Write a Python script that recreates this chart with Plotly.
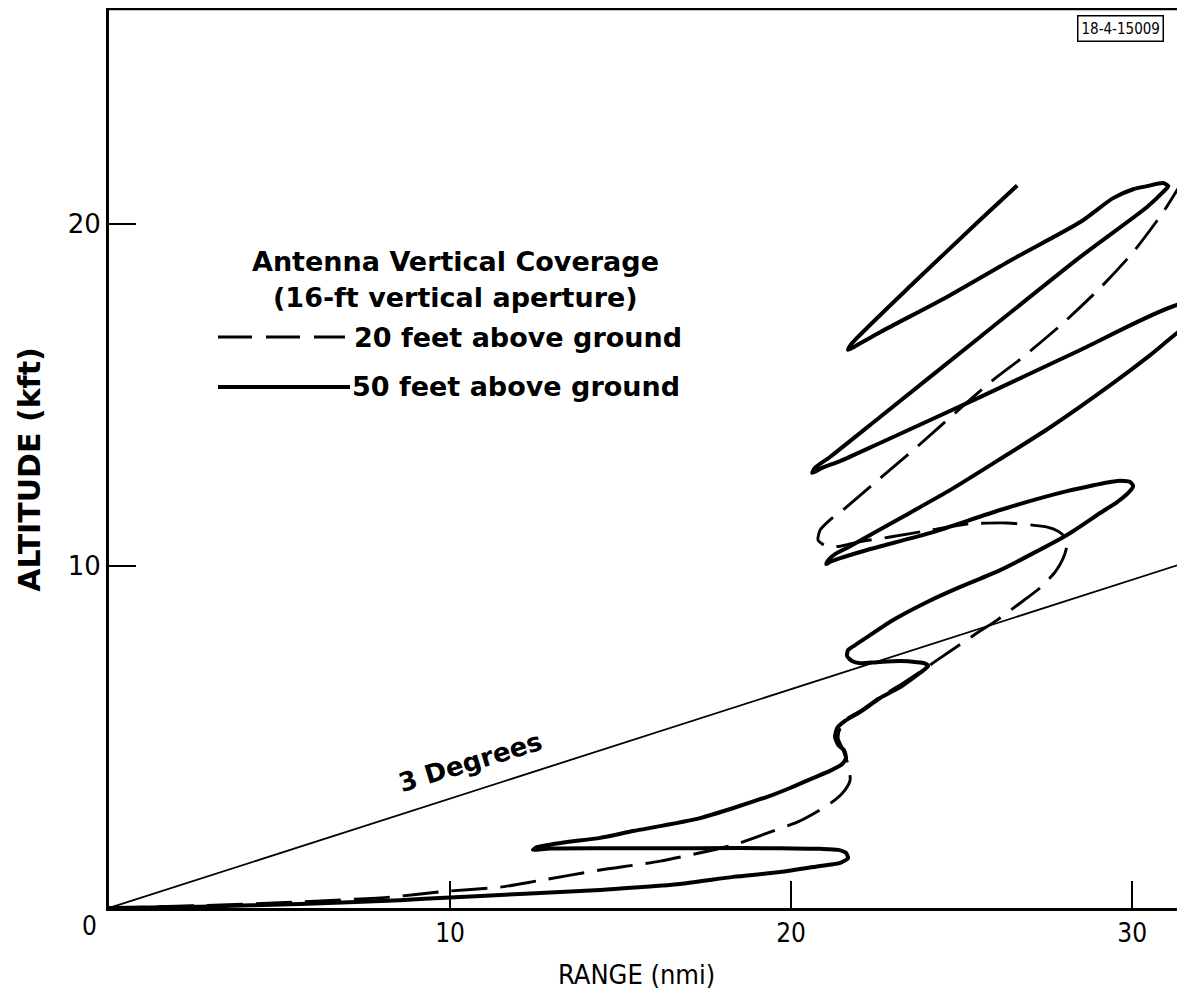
import plotly.graph_objects as go

# ---- data (range in nmi, altitude in kft) ----
SOLID_X = [0.0, 1.20, 2.67, 5.60, 8.53, 10.0, 12.05, 14.40, 16.74, 18.30, 19.68, 20.85, 21.44, 21.67,
           21.61, 21.38, 20.85, 19.68, 17.33, 14.40, 12.93, 12.58, 12.43, 12.55, 12.79, 13.43, 14.40,
           15.37, 17.33, 19.30, 19.97, 20.64, 21.14, 21.50, 21.61, 21.55, 21.38, 21.29, 21.35, 21.58,
           22.02, 22.61, 23.20, 23.69, 23.93, 24.02, 23.90, 23.69, 23.20, 22.52, 22.02, 21.79, 21.64,
           21.67, 21.88, 22.23, 22.99, 23.99, 24.96, 26.13, 28.09, 29.06, 29.56, 29.88, 30.03, 29.94,
           29.56, 28.09, 26.13, 24.16, 22.23, 21.44, 21.14, 21.03, 21.11, 21.29, 21.73, 23.20, 24.66,
           26.13, 27.60, 29.44, 30.53, 31.55, 32.29, 31.55, 28.48, 25.54, 22.61, 21.44, 20.91, 20.62,
           20.70, 21.14, 22.61, 25.54, 28.48, 30.44, 30.91, 31.06, 30.91, 30.44, 30.03, 29.44, 28.48,
           26.51, 24.57, 22.61, 21.88, 21.67, 21.79, 23.58, 25.54, 26.63]
SOLID_Y = [0.0, 0.015, 0.04, 0.12, 0.23, 0.31, 0.41, 0.53, 0.70, 0.91, 1.05, 1.23, 1.32, 1.46,
           1.61, 1.70, 1.73, 1.75, 1.75, 1.75, 1.74, 1.71, 1.70, 1.78, 1.83, 1.93, 2.05,
           2.25, 2.63, 3.25, 3.51, 3.80, 4.01, 4.21, 4.39, 4.62, 4.77, 5.00, 5.26, 5.47,
           5.73, 6.14, 6.46, 6.81, 6.99, 7.08, 7.16, 7.19, 7.22, 7.19, 7.16, 7.22, 7.37,
           7.54, 7.69, 7.92, 8.42, 8.95, 9.39, 9.88, 10.91, 11.55, 11.87, 12.13, 12.34, 12.46,
           12.49, 12.19, 11.64, 10.99, 10.47, 10.23, 10.12, 10.06, 10.20, 10.35, 10.58, 11.40, 12.22,
           13.13, 14.06, 15.35, 16.17, 16.99, 17.34, 17.69, 16.32, 14.94, 13.60, 13.07, 12.87, 12.72,
           12.87, 13.19, 14.36, 16.70, 19.04, 20.50, 20.94, 21.11, 21.20, 21.11, 21.02, 20.76, 20.06,
           18.98, 17.87, 16.84, 16.43, 16.32, 16.52, 18.27, 20.12, 21.13]

DASH_X = [0.0, 2.67, 5.60, 8.24, 9.79, 11.47, 12.55, 14.40, 16.16, 18.30, 19.38, 20.18, 20.85,
          21.29, 21.58, 21.73, 21.70, 21.61, 21.50, 21.38, 21.44, 21.67, 22.08, 22.61, 23.20, 23.87,
          24.28, 25.45, 26.04, 26.72, 27.30, 27.74, 27.98, 28.09, 28.03, 27.83, 27.51, 26.33, 25.16,
          24.08, 22.90, 21.94, 21.44, 21.03, 20.79, 20.85, 21.14, 21.52, 22.61, 23.72, 24.87, 25.92,
          26.80, 27.98, 29.06, 30.03, 30.91, 31.55, 31.99]
DASH_Y = [0.0, 0.07, 0.18, 0.32, 0.48, 0.61, 0.79, 1.11, 1.37, 1.84, 2.22, 2.51, 2.87,
          3.16, 3.45, 3.74, 4.09, 4.39, 4.68, 4.97, 5.26, 5.56, 5.79, 6.17, 6.52, 6.96,
          7.25, 8.04, 8.42, 8.92, 9.36, 9.82, 10.23, 10.61, 10.85, 11.02, 11.14, 11.26, 11.23,
          11.05, 10.85, 10.70, 10.58, 10.58, 10.76, 11.05, 11.35, 11.64, 12.57, 13.51, 14.53, 15.44,
          16.11, 17.11, 18.13, 19.18, 20.35, 21.37, 22.10]

DEG3_X = [0.0, 32.0]
DEG3_Y = [0.0, 10.24]

X_TICKS = [10, 20, 30]
Y_TICKS = [10, 20]
X_RANGE = [0, 31.55]
Y_RANGE = [0, 26.32]

TITLE_1 = "Antenna Vertical Coverage"
TITLE_2 = "(16-ft vertical aperture)"
LEG_DASH = "20 feet above ground"
LEG_SOLID = "50 feet above ground"
STAMP = "18-4-15009"

FONT = "DejaVu Sans"
FONT_B = "DejaVu Sans"
FONT_C = "DejaVu Sans Condensed"

fig = go.Figure()
fig.add_trace(go.Scatter(x=DEG3_X, y=DEG3_Y, mode="lines",
                         line=dict(color="black", width=1.8), showlegend=False, hoverinfo="skip"))
fig.add_trace(go.Scatter(x=DASH_X, y=DASH_Y, mode="lines",
                         line=dict(color="black", width=2.9, dash="36px,13px", shape="spline", smoothing=0.6),
                         showlegend=False))
fig.add_trace(go.Scatter(x=SOLID_X, y=SOLID_Y, mode="lines",
                         line=dict(color="black", width=4, shape="spline", smoothing=0.6),
                         showlegend=False))

# page body adds an 8px offset; plot area maps to screen x 109..1185, y 8..908
fig.update_layout(
    width=1177, height=988,
    margin=dict(l=101, r=0, t=0, b=88),
    paper_bgcolor="white", plot_bgcolor="white",
    font=dict(family=FONT, color="black"),
    xaxis=dict(range=X_RANGE, showgrid=False, zeroline=False, showline=True, linecolor="black",
               linewidth=3, ticks="inside", ticklen=27, tickwidth=2, tickcolor="black",
               tickvals=X_TICKS, ticktext=[str(v) for v in X_TICKS],
               tickfont=dict(family=FONT_C, size=26)),
    yaxis=dict(range=Y_RANGE, showgrid=False, zeroline=False, showline=True, linecolor="black",
               linewidth=3, ticks="inside", ticklen=27, tickwidth=2, tickcolor="black",
               tickvals=Y_TICKS, ticktext=[str(v) for v in Y_TICKS],
               tickfont=dict(family=FONT, size=26)),
)

# top border
fig.add_shape(type="line", xref="paper", yref="paper", x0=0, x1=1, y0=0.999, y1=0.999,
              line=dict(color="black", width=2.5))

# "0" origin label
fig.add_annotation(x=0, y=0, xref="x", yref="y", text="0", showarrow=False,
                   xshift=-20, yshift=-18, font=dict(family=FONT_C, size=26))

# axis titles
fig.add_annotation(xref="paper", yref="paper", x=-0.0734, y=0.487, text="<b>ALTITUDE (kft)</b>",
                   xanchor="center", yanchor="middle",
                   textangle=-90, showarrow=False, font=dict(family=FONT, size=30))
fig.add_annotation(xref="paper", yref="paper", x=0.49, y=-0.0744, text="RANGE (nmi)",
                   xanchor="center", yanchor="middle",
                   showarrow=False, font=dict(family=FONT_C, size=27))

# legend block
fig.add_annotation(xref="paper", yref="paper", x=0.3216, y=0.7178, text="<b>" + TITLE_1 + "</b>",
                   xanchor="center", yanchor="middle",
                   showarrow=False, font=dict(family=FONT_B, size=27))
fig.add_annotation(xref="paper", yref="paper", x=0.3216, y=0.6778, text="<b>" + TITLE_2 + "</b>",
                   xanchor="center", yanchor="middle",
                   showarrow=False, font=dict(family=FONT_B, size=27))
fig.add_annotation(xref="paper", yref="paper", x=0.2258, y=0.6344, text="<b>" + LEG_DASH + "</b>",
                   xanchor="left", yanchor="middle",
                   showarrow=False, font=dict(family=FONT_B, size=27))
fig.add_annotation(xref="paper", yref="paper", x=0.224, y=0.5789, text="<b>" + LEG_SOLID + "</b>",
                   xanchor="left", yanchor="middle",
                   showarrow=False, font=dict(family=FONT_B, size=27))
fig.add_shape(type="line", xref="paper", yref="paper", x0=0.1013, x1=0.2193, y0=0.6344, y1=0.6344,
              line=dict(color="black", width=2.9, dash="34px,14px"))
fig.add_shape(type="line", xref="paper", yref="paper", x0=0.1013, x1=0.224, y0=0.5789, y1=0.5789,
              line=dict(color="black", width=4))

# 3 Degrees label
fig.add_annotation(x=10.59, y=4.27, xref="x", yref="y", text="<b>3 Degrees</b>", textangle=-17,
                   xanchor="center", yanchor="middle",
                   showarrow=False, font=dict(family=FONT_B, size=26))

# stamp
fig.add_annotation(xref="paper", yref="paper", x=0.9396, y=0.9767, text=STAMP, showarrow=False,
                   xanchor="center", yanchor="middle",
                   bordercolor="black", borderwidth=1.5, borderpad=3,
                   font=dict(family=FONT_C, size=15))

fig.write_html("out.html")
